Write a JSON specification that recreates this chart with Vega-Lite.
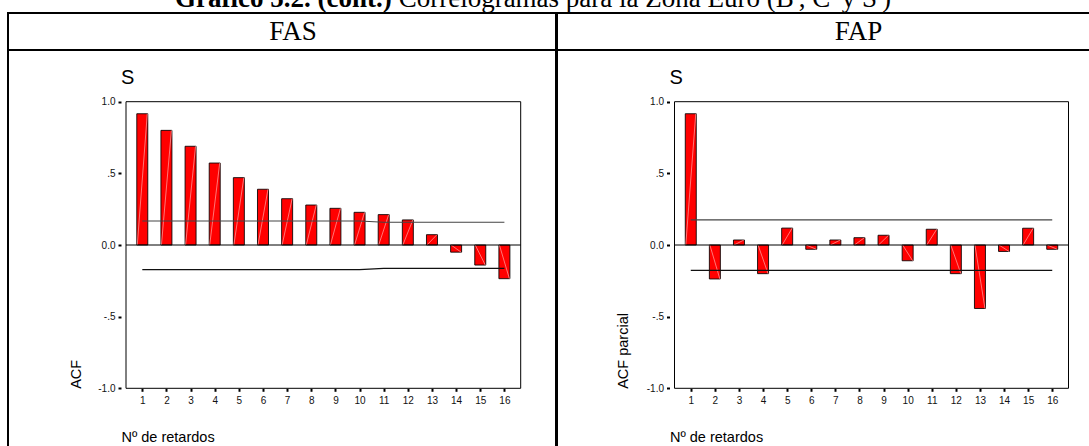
{
  "$schema": "https://vega.github.io/schema/vega-lite/v6.json",
  "background": "white",
  "padding": {"left": 7, "top": -17, "right": -71, "bottom": -3},
  "spacing": 0,
  "bounds": "flush",
  "config": {
    "font": "Liberation Sans",
    "view": {"stroke": "#000", "strokeWidth": 2},
    "axis": {"labelFont": "Liberation Sans", "titleFont": "Liberation Sans"},
    "title": {"font": "Liberation Sans", "fontWeight": "normal", "color": "#000"}
  },
  "datasets": {
    "fas": [
      {"lag": 1, "value": 0.916, "upper": 0.168, "lower": -0.172},
      {"lag": 2, "value": 0.800, "upper": 0.168, "lower": -0.172},
      {"lag": 3, "value": 0.689, "upper": 0.168, "lower": -0.172},
      {"lag": 4, "value": 0.572, "upper": 0.168, "lower": -0.172},
      {"lag": 5, "value": 0.470, "upper": 0.168, "lower": -0.172},
      {"lag": 6, "value": 0.389, "upper": 0.168, "lower": -0.172},
      {"lag": 7, "value": 0.323, "upper": 0.168, "lower": -0.172},
      {"lag": 8, "value": 0.279, "upper": 0.168, "lower": -0.172},
      {"lag": 9, "value": 0.256, "upper": 0.168, "lower": -0.172},
      {"lag": 10, "value": 0.228, "upper": 0.168, "lower": -0.172},
      {"lag": 11, "value": 0.212, "upper": 0.159, "lower": -0.163},
      {"lag": 12, "value": 0.175, "upper": 0.159, "lower": -0.163},
      {"lag": 13, "value": 0.072, "upper": 0.159, "lower": -0.163},
      {"lag": 14, "value": -0.050, "upper": 0.159, "lower": -0.163},
      {"lag": 15, "value": -0.140, "upper": 0.159, "lower": -0.163},
      {"lag": 16, "value": -0.235, "upper": 0.159, "lower": -0.163}
    ],
    "fap": [
      {"lag": 1, "value": 0.916, "upper": 0.175, "lower": -0.177},
      {"lag": 2, "value": -0.237, "upper": 0.175, "lower": -0.177},
      {"lag": 3, "value": 0.035, "upper": 0.175, "lower": -0.177},
      {"lag": 4, "value": -0.200, "upper": 0.175, "lower": -0.177},
      {"lag": 5, "value": 0.118, "upper": 0.175, "lower": -0.177},
      {"lag": 6, "value": -0.030, "upper": 0.175, "lower": -0.177},
      {"lag": 7, "value": 0.035, "upper": 0.175, "lower": -0.177},
      {"lag": 8, "value": 0.051, "upper": 0.175, "lower": -0.177},
      {"lag": 9, "value": 0.068, "upper": 0.175, "lower": -0.177},
      {"lag": 10, "value": -0.110, "upper": 0.175, "lower": -0.177},
      {"lag": 11, "value": 0.110, "upper": 0.175, "lower": -0.177},
      {"lag": 12, "value": -0.200, "upper": 0.175, "lower": -0.177},
      {"lag": 13, "value": -0.443, "upper": 0.175, "lower": -0.177},
      {"lag": 14, "value": -0.045, "upper": 0.175, "lower": -0.177},
      {"lag": 15, "value": 0.117, "upper": 0.175, "lower": -0.177},
      {"lag": 16, "value": -0.030, "upper": 0.175, "lower": -0.177}
    ],
    "frame": [
      {"x1": 0.325, "x2": 16.675, "y1": 1, "y2": 1},
      {"x1": 16.675, "x2": 16.675, "y1": -1, "y2": 1},
      {"x1": 0.325, "x2": 0.325, "y1": -1, "y2": 1},
      {"x1": 0.325, "x2": 16.675, "y1": -1, "y2": -1},
      {"x1": 0.325, "x2": 16.675, "y1": 0, "y2": 0}
    ]
  },
  "vconcat": [
    {
      "width": 1151,
      "height": 30,
      "view": {"stroke": null},
      "data": {"values": [{"bold": "Gráfico 5.2. (cont.)", "rest": "Correlogramas para la Zona Euro (B', C' y S')"}]},
      "encoding": {
        "x": {"datum": 1, "type": "quantitative", "scale": {"domain": [0, 3], "nice": false, "zero": true}, "axis": null}
      },
      "layer": [
        {
          "mark": {"type": "text", "y": "height", "align": "right", "baseline": "bottom", "font": "Liberation Serif", "fontSize": 27, "fontWeight": "bold", "color": "#000"},
          "encoding": {"text": {"field": "bold"}}
        },
        {
          "mark": {"type": "text", "y": "height", "dx": 7, "align": "left", "baseline": "bottom", "font": "Liberation Serif", "fontSize": 27, "fontWeight": "normal", "color": "#000"},
          "encoding": {"text": {"field": "rest"}}
        }
      ]
    },
    {
      "hconcat": [
        {
          "vconcat": [
            {
              "width": 548,
              "height": 37,
              "data": {"values": [{"h": "FAS"}]},
              "mark": {"type": "text", "align": "center", "baseline": "middle", "font": "Liberation Serif", "fontSize": 27, "color": "#000"},
              "encoding": {
                "x": {"datum": 0.52, "type": "quantitative", "scale": {"domain": [0, 1], "nice": false}, "axis": null},
                "y": {"datum": 0.5, "type": "quantitative", "scale": {"domain": [0, 1], "nice": false}, "axis": null},
                "text": {"field": "h"}
              }
            },
            {
              "width": 548,
              "height": 398,
              "title": {"text": "S", "anchor": "start", "orient": "top", "fontSize": 20, "offset": -37.5, "dx": 113},
              "data": {"name": "fas"},
              "encoding": {
                "x": {
                  "field": "lag", "type": "quantitative", "title": "Nº de retardos",
                  "scale": {"domain": [0.325, 16.675], "range": [113, 517.7], "nice": false, "zero": false},
                  "axis": {
                    "values": [1, 2, 3, 4, 5, 6, 7, 8, 9, 10, 11, 12, 13, 14, 15, 16], "format": "d",
                    "offset": -59.7, "grid": false, "domain": false,
                    "tickColor": "#000", "tickSize": 3, "tickWidth": 2,
                    "labelFontSize": 10, "labelPadding": 4, "labelColor": "#111", "labelFlush": false, "labelOverlap": false,
                    "titleFontSize": 14.5, "titleFontWeight": "normal", "titleColor": "#000",
                    "titleX": 113, "titleY": 53.6, "titleAlign": "left", "titleBaseline": "alphabetic"
                  }
                },
                "y": {
                  "field": "value", "type": "quantitative", "title": "ACF",
                  "scale": {"domain": [-1, 1], "range": [338.3, 51.7], "nice": false, "zero": false},
                  "axis": {
                    "values": [-1, -0.5, 0, 0.5, 1],
                    "labelExpr": "datum.value == 1 ? '1.0' : datum.value == 0.5 ? '.5' : datum.value == 0 ? '0.0' : datum.value == -0.5 ? '-.5' : '-1.0'",
                    "offset": -113, "grid": false, "domain": false,
                    "tickColor": "#000", "tickSize": 3, "tickWidth": 2,
                    "labelFontSize": 10, "labelPadding": 3, "labelColor": "#111",
                    "titleFontSize": 14.5, "titleFontWeight": "normal", "titleColor": "#000",
                    "titleAngle": 270, "titleX": -45, "titleY": 338.3, "titleAlign": "left", "titleBaseline": "middle"
                  }
                }
              },
              "layer": [
                {
                  "mark": {"type": "bar", "size": 11, "fill": "#ff0000", "stroke": "#000", "strokeWidth": 1, "strokeOpacity": 0.85},
                  "encoding": {"y2": {"datum": 0}}
                },
                {
                  "mark": {"type": "rule", "color": "#ffa8a8", "strokeWidth": 0.7, "xOffset": -5, "x2Offset": 5},
                  "encoding": {"x2": {"field": "lag"}, "y": {"datum": 0}, "y2": {"field": "value"}}
                },
                {
                  "mark": {"type": "line", "color": "#444", "strokeWidth": 1.1},
                  "encoding": {"y": {"field": "upper", "title": "ACF"}}
                },
                {
                  "mark": {"type": "line", "color": "#111", "strokeWidth": 1.1},
                  "encoding": {"y": {"field": "lower", "title": "ACF"}}
                },
                {
                  "data": {"name": "frame"},
                  "mark": {"type": "rule", "color": "#000", "strokeWidth": 1},
                  "encoding": {
                    "x": {"field": "x1", "type": "quantitative", "title": "Nº de retardos"},
                    "x2": {"field": "x2"},
                    "y": {"field": "y1", "type": "quantitative", "title": "ACF"},
                    "y2": {"field": "y2"}
                  }
                }
              ]
            }
          ],
          "spacing": 0,
          "bounds": "flush"
        },
        {
          "vconcat": [
            {
              "width": 603,
              "height": 37,
              "data": {"values": [{"h": "FAP"}]},
              "mark": {"type": "text", "align": "center", "baseline": "middle", "font": "Liberation Serif", "fontSize": 27, "color": "#000"},
              "encoding": {
                "x": {"datum": 0.5, "type": "quantitative", "scale": {"domain": [0, 1], "nice": false}, "axis": null},
                "y": {"datum": 0.5, "type": "quantitative", "scale": {"domain": [0, 1], "nice": false}, "axis": null},
                "text": {"field": "h"}
              }
            },
            {
              "width": 603,
              "height": 398,
              "title": {"text": "S", "anchor": "start", "orient": "top", "fontSize": 20, "offset": -37.5, "dx": 112.5},
              "data": {"name": "fap"},
              "encoding": {
                "x": {
                  "field": "lag", "type": "quantitative", "title": "Nº de retardos",
                  "scale": {"domain": [0.325, 16.675], "range": [112.5, 516.5], "nice": false, "zero": false},
                  "axis": {
                    "values": [1, 2, 3, 4, 5, 6, 7, 8, 9, 10, 11, 12, 13, 14, 15, 16], "format": "d",
                    "offset": -59.7, "grid": false, "domain": false,
                    "tickColor": "#000", "tickSize": 3, "tickWidth": 2,
                    "labelFontSize": 10, "labelPadding": 4, "labelColor": "#111", "labelFlush": false, "labelOverlap": false,
                    "titleFontSize": 14.5, "titleFontWeight": "normal", "titleColor": "#000",
                    "titleX": 112.5, "titleY": 53.6, "titleAlign": "left", "titleBaseline": "alphabetic"
                  }
                },
                "y": {
                  "field": "value", "type": "quantitative", "title": "ACF parcial",
                  "scale": {"domain": [-1, 1], "range": [338.3, 51.7], "nice": false, "zero": false},
                  "axis": {
                    "values": [-1, -0.5, 0, 0.5, 1],
                    "labelExpr": "datum.value == 1 ? '1.0' : datum.value == 0.5 ? '.5' : datum.value == 0 ? '0.0' : datum.value == -0.5 ? '-.5' : '-1.0'",
                    "offset": -112.5, "grid": false, "domain": false,
                    "tickColor": "#000", "tickSize": 3, "tickWidth": 2,
                    "labelFontSize": 10, "labelPadding": 3, "labelColor": "#111",
                    "titleFontSize": 14.5, "titleFontWeight": "normal", "titleColor": "#000",
                    "titleAngle": 270, "titleX": -46, "titleY": 338.3, "titleAlign": "left", "titleBaseline": "middle"
                  }
                }
              },
              "layer": [
                {
                  "mark": {"type": "bar", "size": 11, "fill": "#ff0000", "stroke": "#000", "strokeWidth": 1, "strokeOpacity": 0.85},
                  "encoding": {"y2": {"datum": 0}}
                },
                {
                  "mark": {"type": "rule", "color": "#ffa8a8", "strokeWidth": 0.7, "xOffset": -5, "x2Offset": 5},
                  "encoding": {"x2": {"field": "lag"}, "y": {"datum": 0}, "y2": {"field": "value"}}
                },
                {
                  "mark": {"type": "line", "color": "#444", "strokeWidth": 1.1},
                  "encoding": {"y": {"field": "upper", "title": "ACF parcial"}}
                },
                {
                  "mark": {"type": "line", "color": "#111", "strokeWidth": 1.1},
                  "encoding": {"y": {"field": "lower", "title": "ACF parcial"}}
                },
                {
                  "data": {"name": "frame"},
                  "mark": {"type": "rule", "color": "#000", "strokeWidth": 1},
                  "encoding": {
                    "x": {"field": "x1", "type": "quantitative", "title": "Nº de retardos"},
                    "x2": {"field": "x2"},
                    "y": {"field": "y1", "type": "quantitative", "title": "ACF parcial"},
                    "y2": {"field": "y2"}
                  }
                }
              ]
            }
          ],
          "spacing": 0,
          "bounds": "flush"
        }
      ],
      "spacing": -2,
      "bounds": "full"
    }
  ]
}
